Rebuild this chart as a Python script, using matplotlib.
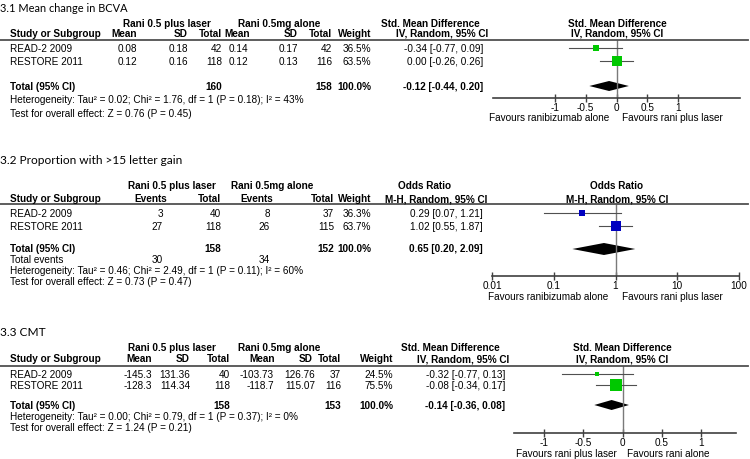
import matplotlib
matplotlib.use('Agg')
import matplotlib.pyplot as plt
from matplotlib.lines import Line2D

W, H = 750, 460

studies = ['READ-2 2009', 'RESTORE 2011']

# 3.1 mean change in BCVA
bcva_mean_laser = [0.08, 0.12]
bcva_sd_laser = [0.18, 0.16]
bcva_n_laser = [42, 118]
bcva_mean_alone = [0.14, 0.12]
bcva_sd_alone = [0.17, 0.13]
bcva_n_alone = [42, 116]
bcva_weight = [36.5, 63.5]
bcva_est = [-0.34, 0.00]
bcva_lo = [-0.77, -0.26]
bcva_hi = [0.09, 0.26]
bcva_total = [-0.12, -0.44, 0.20]
bcva_het = 'Heterogeneity: Tau² = 0.02; Chi² = 1.76, df = 1 (P = 0.18); I² = 43%'
bcva_test = 'Test for overall effect: Z = 0.76 (P = 0.45)'

# 3.2 proportion with >15 letter gain
gain_events_laser = [3, 27]
gain_n_laser = [40, 118]
gain_events_alone = [8, 26]
gain_n_alone = [37, 115]
gain_weight = [36.3, 63.7]
gain_or = [0.29, 1.02]
gain_lo = [0.07, 0.55]
gain_hi = [1.21, 1.87]
gain_total = [0.65, 0.20, 2.09]
gain_het = 'Heterogeneity: Tau² = 0.46; Chi² = 2.49, df = 1 (P = 0.11); I² = 60%'
gain_test = 'Test for overall effect: Z = 0.73 (P = 0.47)'

# 3.3 CMT
cmt_mean_laser = [-145.3, -128.3]
cmt_sd_laser = [131.36, 114.34]
cmt_n_laser = [40, 118]
cmt_mean_alone = [-103.73, -118.7]
cmt_sd_alone = [126.76, 115.07]
cmt_n_alone = [37, 116]
cmt_weight = [24.5, 75.5]
cmt_est = [-0.32, -0.08]
cmt_lo = [-0.77, -0.34]
cmt_hi = [0.13, 0.17]
cmt_total = [-0.14, -0.36, 0.08]
cmt_het = 'Heterogeneity: Tau² = 0.00; Chi² = 0.79, df = 1 (P = 0.37); I² = 0%'
cmt_test = 'Test for overall effect: Z = 1.24 (P = 0.21)'

smd_ticks = [-1, -0.5, 0, 0.5, 1]
smd_labels = ['-1', '-0.5', '0', '0.5', '1']
or_ticks = [0.01, 0.1, 1, 10, 100]
or_labels = ['0.01', '0.1', '1', '10', '100']

GREEN = '#00c800'
BLUE = '#0000c0'
FONT = 'Liberation Sans'
FS = 7.2

fig = plt.figure(figsize=(W / 100, H / 100), dpi=100)


def put(x, y, s, ha='left', bold=False, size=FS, family=FONT):
    fig.text(x / W, 1 - y / H, s, ha=ha, va='center', fontsize=size,
             fontweight='bold' if bold else 'normal', family=family)


def rule(y):
    fig.add_artist(Line2D([0, 748 / W], [1 - y / H] * 2, color='#505050', lw=1.3))


def fmt_ci(e, lo, hi):
    return f'{e:.2f} [{lo:.2f}, {hi:.2f}]'


def forest(x0, x1, y_top, y_axis, rows_y, total_y, est, lo, hi, weight, total,
           color, xlim, ticks, labels, log=False, dh=5):
    ax = fig.add_axes([x0 / W, 1 - y_axis / H, (x1 - x0) / W, (y_axis - y_top) / H])
    if log:
        ax.set_xscale('log')
    ax.set_xlim(xlim)
    ax.set_ylim(y_axis, y_top)
    ref = 1 if log else 0
    ax.axvline(ref, color='#7a7a7a', lw=1)
    for y, e, l, h, w in zip(rows_y, est, lo, hi, weight):
        ax.plot([l, h], [y, y], color='#505050', lw=0.8)
        side = 2 + 0.12 * w
        ax.plot([e], [y], marker='s', ms=side * 0.72, color=color, mec=color, mew=0)
    te, tl, th = total
    ax.fill([tl, te, th, te], [total_y, total_y - dh, total_y, total_y + dh],
            color='black', lw=0)
    for s in ['top', 'left', 'right']:
        ax.spines[s].set_visible(False)
    ax.spines['bottom'].set_color('#404040')
    ax.spines['bottom'].set_linewidth(1.2)
    ax.set_yticks([])
    ax.minorticks_off()
    ax.set_xticks(ticks)
    ax.set_xticklabels(labels, family=FONT, fontsize=FS)
    ax.tick_params(axis='x', direction='inout', length=6, width=1, color='#404040', pad=0)
    ax.patch.set_alpha(0)
    return ax


# ---------------- 3.1 ----------------
put(0, 9, '3.1 Mean change in BCVA', size=7.9, family='Lato')
put(167, 24, 'Rani 0.5 plus laser', ha='center', bold=True)
put(279, 24, 'Rani 0.5mg alone', ha='center', bold=True)
put(430, 24, 'Std. Mean Difference', ha='center', bold=True)
put(617, 24, 'Std. Mean Difference', ha='center', bold=True)
put(10, 34, 'Study or Subgroup', bold=True)
for x, s in zip([137, 188, 222, 250, 298, 332, 371],
                ['Mean', 'SD', 'Total', 'Mean', 'SD', 'Total', 'Weight']):
    put(x, 34, s, ha='right', bold=True)
put(488, 34, 'IV, Random, 95% CI', ha='right', bold=True)
put(617, 34, 'IV, Random, 95% CI', ha='center', bold=True)
rule(41)
rows1 = [49, 62]
for i, y in enumerate(rows1):
    put(10, y, studies[i])
    put(137, y, f'{bcva_mean_laser[i]:.2f}', ha='right')
    put(188, y, f'{bcva_sd_laser[i]:.2f}', ha='right')
    put(222, y, str(bcva_n_laser[i]), ha='right')
    put(248, y, f'{bcva_mean_alone[i]:.2f}', ha='right')
    put(298, y, f'{bcva_sd_alone[i]:.2f}', ha='right')
    put(332, y, str(bcva_n_alone[i]), ha='right')
    put(371, y, f'{bcva_weight[i]:.1f}%', ha='right')
    put(483, y, fmt_ci(bcva_est[i], bcva_lo[i], bcva_hi[i]), ha='right')
put(10, 87, 'Total (95% CI)', bold=True)
put(222, 87, str(sum(bcva_n_laser)), ha='right', bold=True)
put(332, 87, str(sum(bcva_n_alone)), ha='right', bold=True)
put(371, 87, f'{sum(bcva_weight):.1f}%', ha='right', bold=True)
put(483, 87, fmt_ci(*bcva_total), ha='right', bold=True)
put(10, 100, bcva_het)
put(10, 114, bcva_test)
forest(493, 740, 41, 99, rows1, 87, bcva_est, bcva_lo, bcva_hi, bcva_weight,
       bcva_total, GREEN, (-2, 2), smd_ticks, smd_labels)
put(609, 118, 'Favours ranibizumab alone', ha='right')
put(622, 118, 'Favours rani plus laser')

# ---------------- 3.2 ----------------
put(0, 160, '3.2 Proportion with >15 letter gain', size=8.6, family='Lato')
put(172, 186, 'Rani 0.5 plus laser', ha='center', bold=True)
put(272, 186, 'Rani 0.5mg alone', ha='center', bold=True)
put(425, 186, 'Odds Ratio', ha='center', bold=True)
put(617, 186, 'Odds Ratio', ha='center', bold=True)
put(10, 199, 'Study or Subgroup', bold=True)
for x, s in zip([167, 221, 273, 334, 371], ['Events', 'Total', 'Events', 'Total', 'Weight']):
    put(x, 199, s, ha='right', bold=True)
put(487, 199, 'M-H, Random, 95% CI', ha='right', bold=True)
put(617, 199, 'M-H, Random, 95% CI', ha='center', bold=True)
rule(205)
rows2 = [214, 227]
for i, y in enumerate(rows2):
    put(10, y, studies[i])
    put(163, y, str(gain_events_laser[i]), ha='right')
    put(221, y, str(gain_n_laser[i]), ha='right')
    put(270, y, str(gain_events_alone[i]), ha='right')
    put(334, y, str(gain_n_alone[i]), ha='right')
    put(371, y, f'{gain_weight[i]:.1f}%', ha='right')
    put(483, y, fmt_ci(gain_or[i], gain_lo[i], gain_hi[i]), ha='right')
put(10, 249, 'Total (95% CI)', bold=True)
put(221, 249, str(sum(gain_n_laser)), ha='right', bold=True)
put(334, 249, str(sum(gain_n_alone)), ha='right', bold=True)
put(371, 249, f'{sum(gain_weight):.1f}%', ha='right', bold=True)
put(483, 249, fmt_ci(*gain_total), ha='right', bold=True)
put(10, 260, 'Total events')
put(163, 260, str(sum(gain_events_laser)), ha='right')
put(270, 260, str(sum(gain_events_alone)), ha='right')
put(10, 271, gain_het)
put(10, 282, gain_test)
forest(492, 739, 205, 277, rows2, 250, gain_or, gain_lo, gain_hi, gain_weight,
       gain_total, BLUE, (0.01, 100), or_ticks, or_labels, log=True, dh=6)
put(608, 297, 'Favours ranibizumab alone', ha='right')
put(622, 297, 'Favours rani plus laser')

# ---------------- 3.3 ----------------
put(0, 332, '3.3 CMT', size=8.6, family='Lato')
put(172, 348, 'Rani 0.5 plus laser', ha='center', bold=True)
put(279, 348, 'Rani 0.5mg alone', ha='center', bold=True)
put(450, 348, 'Std. Mean Difference', ha='center', bold=True)
put(622, 348, 'Std. Mean Difference', ha='center', bold=True)
put(10, 359, 'Study or Subgroup', bold=True)
for x, s in zip([152, 190, 230, 275, 313, 341, 393],
                ['Mean', 'SD', 'Total', 'Mean', 'SD', 'Total', 'Weight']):
    put(x, 359, s, ha='right', bold=True)
put(509, 359, 'IV, Random, 95% CI', ha='right', bold=True)
put(622, 359, 'IV, Random, 95% CI', ha='center', bold=True)
rule(367)
rows3 = [375, 386]
for i, y in enumerate(rows3):
    put(10, y, studies[i])
    put(152, y, str(cmt_mean_laser[i]), ha='right')
    put(190, y, str(cmt_sd_laser[i]), ha='right')
    put(230, y, str(cmt_n_laser[i]), ha='right')
    put(274, y, str(cmt_mean_alone[i]), ha='right')
    put(315, y, str(cmt_sd_alone[i]), ha='right')
    put(341, y, str(cmt_n_alone[i]), ha='right')
    put(393, y, f'{cmt_weight[i]:.1f}%', ha='right')
    put(505, y, fmt_ci(cmt_est[i], cmt_lo[i], cmt_hi[i]), ha='right')
put(10, 406, 'Total (95% CI)', bold=True)
put(230, 406, str(sum(cmt_n_laser)), ha='right', bold=True)
put(341, 406, str(sum(cmt_n_alone)), ha='right', bold=True)
put(393, 406, f'{sum(cmt_weight):.1f}%', ha='right', bold=True)
put(505, 406, fmt_ci(*cmt_total), ha='right', bold=True)
put(10, 417, cmt_het)
put(10, 428, cmt_test)
forest(514, 736, 367, 434, rows3, 406, cmt_est, cmt_lo, cmt_hi, cmt_weight,
       cmt_total, GREEN, (-1.38, 1.44), smd_ticks, smd_labels)
put(617, 454, 'Favours rani plus laser', ha='right')
put(627, 454, 'Favours rani alone')

fig.savefig('out.png', dpi=100)
